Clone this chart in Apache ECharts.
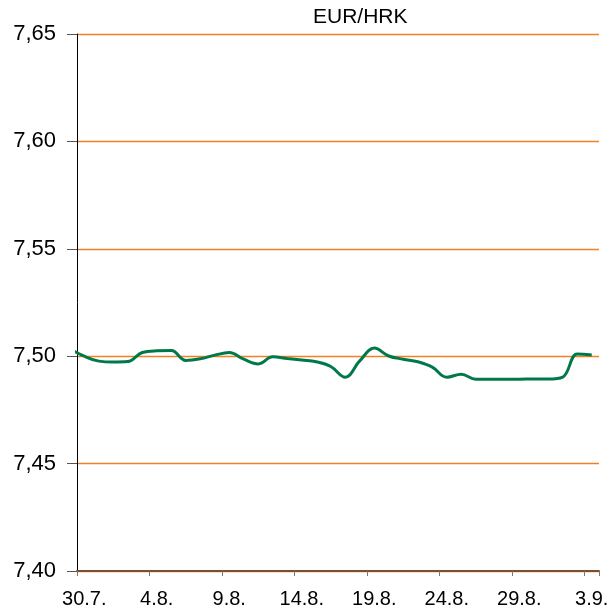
<!DOCTYPE html>
<html>
<head>
<meta charset="utf-8">
<script src="https://cdn.jsdelivr.net/npm/echarts@6/dist/echarts.min.js"></script>
<style>
html,body{margin:0;padding:0;background:#fff;}
#chart{width:613px;height:612px;}
</style>
</head>
<body>
<div id="chart"></div>
<script>
// Categories: calendar days (first one, 29.7., lies just left of the visible axis start)
const categories = ["29.7.","30.7.","31.7.","1.8.","2.8.","3.8.","4.8.","5.8.","6.8.","7.8.","8.8.","9.8.","10.8.","11.8.","12.8.","13.8.","14.8.","15.8.","16.8.","17.8.","18.8.","19.8.","20.8.","21.8.","22.8.","23.8.","24.8.","25.8.","26.8.","27.8.","28.8.","29.8.","30.8.","31.8.","1.9.","2.9.","3.9."];
const eurHrk = [7.5035,7.5000,7.4977,7.4973,7.4975,7.5017,7.5025,7.5026,7.4980,7.4988,7.5005,7.5017,7.4986,7.4964,7.4997,7.4989,7.4982,7.4974,7.4952,7.4902,7.4978,7.5038,7.5001,7.4986,7.4974,7.4949,7.4902,7.4916,7.4893,7.4893,7.4893,7.4893,7.4894,7.4894,7.4903,7.5010,7.5006];
const yTicks = [7.40, 7.45, 7.50, 7.55, 7.60, 7.65];
const titleText = "EUR/HRK";
const labelEvery = (idx) => idx >= 1 && (idx - 1) % 5 === 0;

const chart = echarts.init(document.getElementById('chart'), null, {renderer:'canvas'});
chart.setOption({
  animation:false,
  backgroundColor:'#ffffff',
  title:{
    text:titleText, left:313, top:7, padding:0,
    textStyle:{fontFamily:'Liberation Sans', fontSize:21, fontWeight:'normal', color:'#000'}
  },
  grid:{left:77, right:14, top:34, bottom:41, containLabel:false},
  xAxis:{
    type:'category', data:categories, boundaryGap:true, min:1, z:5,
    axisLine:{show:true, onZero:false, lineStyle:{color:'#7a4e30', width:2}},
    axisTick:{show:true, interval:labelEvery, length:5, alignWithLabel:false, lineStyle:{color:'#777'}},
    axisLabel:{interval:labelEvery, margin:18, fontFamily:'Liberation Sans', fontSize:20, color:'#000'},
    splitLine:{show:false}
  },
  yAxis:{
    type:'value', min:yTicks[0], max:yTicks[yTicks.length-1], interval:0.05,
    axisLine:{show:true, lineStyle:{color:'#000', width:1}},
    axisTick:{show:true, length:10, lineStyle:{color:'#555'}},
    axisLabel:{margin:21, fontFamily:'Liberation Sans', fontSize:22, color:'#000',
      formatter:v=>v.toFixed(2).replace('.',',')},
    splitLine:{show:true, lineStyle:{color:'#F47F20', width:1.4}}
  },
  series:[{
    type:'line', data:eurHrk, smooth:0.4, symbol:'none', clip:true,
    lineStyle:{color:'#00794A', width:3}
  }]
});
</script>
</body>
</html>
